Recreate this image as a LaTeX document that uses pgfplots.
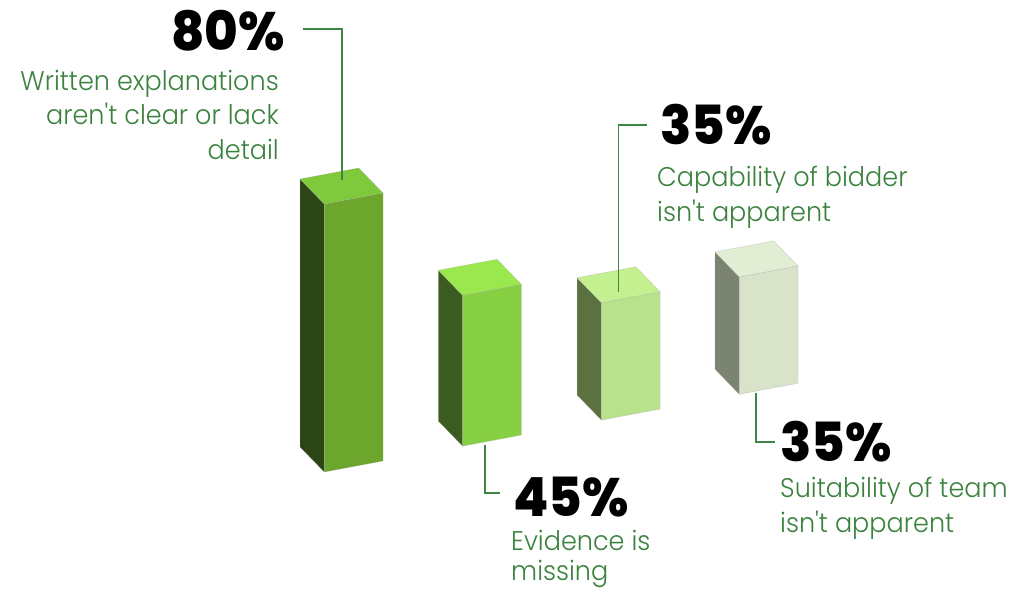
\documentclass[border=0pt]{standalone}
\usepackage{fontspec}
\usepackage{pgfplots}
\pgfplotsset{compat=1.18}
\newfontfamily\lightf[FakeStretch=0.945]{Poppins Light}
\newfontfamily\heavy[FakeStretch=0.95]{Poppins ExtraBold}
\definecolor{txt}{HTML}{3B823E}
\definecolor{lead}{HTML}{3F8544}
\definecolor{aT}{HTML}{7FC93C}\definecolor{aF}{HTML}{6CA62C}\definecolor{aS}{HTML}{2B4516}
\definecolor{bT}{HTML}{9AE84E}\definecolor{bF}{HTML}{87D044}\definecolor{bS}{HTML}{3B5C20}
\definecolor{cT}{HTML}{C4F08F}\definecolor{cF}{HTML}{B8E28C}\definecolor{cS}{HTML}{5B7240}
\definecolor{dT}{HTML}{E1EED4}\definecolor{dF}{HTML}{D8E3C9}\definecolor{dS}{HTML}{7A8470}
\newcommand{\valnum}[4]{\node[anchor=#1,inner sep=0pt,font=\heavy\fontsize{54}{54}\selectfont] at (#2pt,591pt-#3pt) {#4};}
\newcommand{\capline}[4]{\node[anchor=#1,inner sep=0pt,text=txt,font=\lightf\fontsize{27}{27}\selectfont] at (#2pt,591pt-#3pt) {#4};}
\begin{document}
\begin{tikzpicture}[x=1pt,y=1pt]
\path[use as bounding box] (0,0) rectangle (1033,591);
\begin{axis}[
  anchor=origin, at={(324.3pt,119pt)},
  x={(58.7pt,11pt)}, y={(-24.3pt,25pt)}, z={(0pt,3.35pt)},
  xmin=0, xmax=9, ymin=0, ymax=1, zmin=0, zmax=85,
  hide axis, clip=false,
  every axis plot/.append style={line width=0.4pt, draw=black!35!white, draw opacity=0.5},
]
% 80%: side, front and top faces
\addplot3[fill=aS] coordinates {(0,0,0) (0,1,0) (0,1,80) (0,0,80)} -- cycle;
\addplot3[fill=aF] coordinates {(0,0,0) (1,0,0) (1,0,80) (0,0,80)} -- cycle;
\addplot3[fill=aT] coordinates {(0,0,80) (1,0,80) (1,1,80) (0,1,80)} -- cycle;
% 45%
\addplot3[fill=bS] coordinates {(2.356,0,0) (2.356,1,0) (2.356,1,45) (2.356,0,45)} -- cycle;
\addplot3[fill=bF] coordinates {(2.356,0,0) (3.356,0,0) (3.356,0,45) (2.356,0,45)} -- cycle;
\addplot3[fill=bT] coordinates {(2.356,0,45) (3.356,0,45) (3.356,1,45) (2.356,1,45)} -- cycle;
% 35%, capability
\addplot3[fill=cS] coordinates {(4.72,0,0) (4.72,1,0) (4.72,1,35) (4.72,0,35)} -- cycle;
\addplot3[fill=cF] coordinates {(4.72,0,0) (5.72,0,0) (5.72,0,35) (4.72,0,35)} -- cycle;
\addplot3[fill=cT] coordinates {(4.72,0,35) (5.72,0,35) (5.72,1,35) (4.72,1,35)} -- cycle;
% 35%, suitability
\addplot3[fill=dS] coordinates {(7.07,0,0) (7.07,1,0) (7.07,1,35) (7.07,0,35)} -- cycle;
\addplot3[fill=dF] coordinates {(7.07,0,0) (8.07,0,0) (8.07,0,35) (7.07,0,35)} -- cycle;
\addplot3[fill=dT] coordinates {(7.07,0,35) (8.07,0,35) (8.07,1,35) (7.07,1,35)} -- cycle;
\end{axis}
% leader lines
\begin{scope}[draw=lead,line width=1.5pt,line join=miter]
\draw (303,591-29) -- (342,591-29) -- (342,591-180);
\draw (647,591-125) -- (618.5,591-125) -- (618.5,591-292);
\draw (485,591-445) -- (485,591-493) -- (500,591-493);
\draw (756,591-393) -- (756,591-442) -- (775,591-442);
\end{scope}
% value labels and captions
\valnum{base east}{285}{51}{80\%}
\capline{base east}{279}{91}{Written explanations}
\capline{base east}{279}{125}{aren't clear or lack}
\capline{base east}{279}{160}{detail}
\valnum{base west}{660}{145}{35\%}
\capline{base west}{657}{187}{Capability of bidder}
\capline{base west}{657}{222}{isn't apparent}
\valnum{base west}{513}{517}{45\%}
\capline{base west}{511}{551}{Evidence is}
\capline{base west}{511}{581}{missing}
\valnum{base west}{780}{462}{35\%}
\capline{base west}{780}{498}{Suitability of team}
\capline{base west}{780}{533}{isn't apparent}
\end{tikzpicture}
\end{document}
